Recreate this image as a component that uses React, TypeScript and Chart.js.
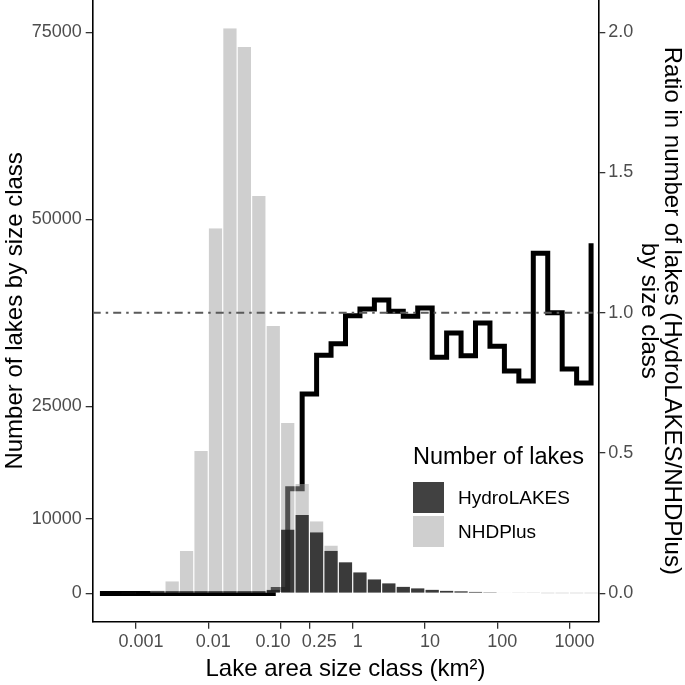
import React, { useEffect, useRef } from "react";
import { Chart, registerables } from "chart.js";

Chart.register(...registerables);

const FONT = "'Liberation Sans', Arial, Helvetica, sans-serif";

// Size-class bins: centres in log10(km²), bin width 0.2
const logBinCentres = [
  -3.5, -3.3, -3.1, -2.9, -2.7, -2.5, -2.3, -2.1, -1.9, -1.7, -1.5, -1.3,
  -1.1, -0.9, -0.7, -0.5, -0.3, -0.1, 0.1, 0.3, 0.5, 0.7, 0.9, 1.1, 1.3,
  1.5, 1.7, 1.9, 2.1, 2.3, 2.5, 2.7, 2.9, 3.1, 3.3,
];

const nhdplusCounts = [
  0, 0, 30, 80, 400, 1630, 5680, 19030, 48820, 75530, 73030, 53130,
  35730, 22770, 14630, 9640, 6390, 4200, 2790, 1820, 1350, 920, 680, 560, 400,
  330, 220, 170, 130, 95, 45, 38, 31, 24, 12,
];

const hydrolakesCounts = [
  0, 0, 0, 0, 0, 0, 0, 0, 0, 0, 0, 0,
  500, 8530, 10490, 8170, 5720, 4160, 2830, 1900, 1360, 910, 690, 470, 370,
  280, 210, 150, 105, 72, 55, 38, 25, 18, 15,
];

const ratioValues = [
  0, 0, 0, 0, 0, 0, 0, 0, 0, 0, 0, 0,
  0.014, 0.373, 0.711, 0.849, 0.89, 0.99, 1.014, 1.046, 1.006, 0.988, 1.017, 0.842, 0.928,
  0.847, 0.964, 0.881, 0.793, 0.757, 1.212, 1.0, 0.8, 0.75, 1.248,
];

const referenceRatio = 1.0;

const xTickValues = [0.001, 0.01, 0.1, 0.25, 1, 10, 100, 1000];
const xTickLabels = ["0.001", "0.01", "0.10     ", "  0.25", "1", "10", "100", "1000"];
const countTicks = [0, 10000, 25000, 50000, 75000];
const ratioTicks = [0, 0.5, 1.0, 1.5, 2.0];

const seriesNames = ["HydroLAKES", "NHDPlus"];

// axis limits (x in log10 km²)
const X_LOG_MIN = -3.6;
const X_LOG_MAX = 3.4;
const Y_MIN = -3777;
const Y_MAX = 79307;
const RATIO_FACTOR = 37500;

const HYDRO_COLOR = "rgba(32,32,32,0.85)";
const NHD_COLOR = "rgba(160,160,160,0.5)";
const TICK_COLOR = "#4d4d4d";
const TITLE_SIZE = 24;

const zeroPad = (s: any) => {
  s.paddingTop = 0;
  s.paddingBottom = 0;
  s.paddingLeft = 0;
  s.paddingRight = 0;
};

const legendPlugin = {
  id: "lakeLegend",
  afterDraw(chart: any, _args: any, opts: any) {
    const ctx = chart.ctx;
    ctx.save();
    ctx.textAlign = "left";
    ctx.textBaseline = "middle";
    ctx.fillStyle = "#000";
    ctx.font = `${opts.titleSize}px ${FONT}`;
    ctx.fillText(opts.title, opts.x, opts.titleY);
    opts.items.forEach((it: any, i: number) => {
      const top = opts.keyTop + i * (opts.keySize + opts.keyGap);
      ctx.fillStyle = it.color;
      ctx.fillRect(opts.x, top, opts.keySize, opts.keySize);
      ctx.fillStyle = "#000";
      ctx.font = `${opts.labelSize}px ${FONT}`;
      ctx.fillText(it.label, opts.x + opts.keySize + opts.textGap, top + opts.keySize / 2 + 1);
    });
    ctx.restore();
  },
};

export default function App() {
  const ref = useRef<HTMLCanvasElement>(null);

  useEffect(() => {
    if (!ref.current) return;
    Chart.defaults.font.family = FONT;

    const hydroData = logBinCentres.map((x, i) => ({ x, y: hydrolakesCounts[i] }));
    const nhdData = logBinCentres.map((x, i) => ({ x, y: nhdplusCounts[i] }));
    const ratioData = logBinCentres.map((x, i) => ({ x, y: ratioValues[i] }));
    const refData = [
      { x: X_LOG_MIN, y: referenceRatio },
      { x: X_LOG_MAX, y: referenceRatio },
    ];

    const barCommon = {
      grouped: false,
      barPercentage: 1,
      categoryPercentage: 1,
      borderColor: "#ffffff",
      borderWidth: { left: 0.6, right: 0.6, top: 0, bottom: 0 },
      borderSkipped: false,
      inflateAmount: 0,
      yAxisID: "y",
    };

    const chart = new Chart(ref.current, {
      type: "bar",
      data: {
        datasets: [
          {
            type: "line",
            label: "ratio-ref",
            data: refData,
            yAxisID: "y1",
            borderColor: "#5a5a5a",
            borderWidth: 2,
            borderDash: [8, 5, 2.5, 5],
            pointRadius: 0,
            fill: false,
            order: 1,
          } as any,
          {
            ...barCommon,
            label: seriesNames[0],
            data: hydroData,
            backgroundColor: HYDRO_COLOR,
            order: 2,
          } as any,
          {
            ...barCommon,
            label: seriesNames[1],
            data: nhdData,
            backgroundColor: NHD_COLOR,
            order: 3,
          } as any,
          {
            type: "line",
            label: "ratio",
            data: ratioData,
            yAxisID: "y1",
            stepped: true,
            borderColor: "#000000",
            borderWidth: 5,
            borderJoinStyle: "miter",
            borderCapStyle: "butt",
            pointRadius: 0,
            fill: false,
            order: 4,
          } as any,
        ],
      },
      options: {
        responsive: false,
        devicePixelRatio: 1,
        animation: false,
        events: [],
        layout: { padding: 0, autoPadding: false },
        plugins: {
          legend: { display: false },
          tooltip: { enabled: false },
          lakeLegend: {
            title: "Number of lakes",
            titleSize: 23.5,
            labelSize: 19,
            x: 413,
            titleY: 458,
            keyTop: 482,
            keySize: 31,
            keyGap: 3,
            textGap: 14,
            items: [
              { label: seriesNames[0], color: HYDRO_COLOR },
              { label: seriesNames[1], color: NHD_COLOR },
            ],
          },
        } as any,
        scales: {
          x: {
            type: "linear",
            position: "bottom",
            offset: false,
            min: X_LOG_MIN,
            max: X_LOG_MAX,
            afterBuildTicks: (s: any) => {
              s.ticks = xTickValues.map((v) => ({ value: Math.log10(v) }));
            },
            afterFit: (s: any) => {
              s.height = 63.3;
              zeroPad(s);
            },
            ticks: {
              autoSkip: false,
              maxRotation: 0,
              minRotation: 0,
              labelOffset: 5,
              padding: 3,
              color: TICK_COLOR,
              font: { size: 18 },
              callback: (_v: any, i: number) => xTickLabels[i],
            },
            grid: {
              display: true,
              offset: false,
              drawOnChartArea: false,
              drawTicks: true,
              tickLength: 7,
              color: "#333333",
              lineWidth: 1.3,
            },
            border: { display: true, color: "#000", width: 1.6 },
            title: {
              display: true,
              text: "Lake area size class (km²)",
              color: "#000",
              font: { size: TITLE_SIZE },
              padding: { top: 0, bottom: 1 },
            },
          },
          y: {
            type: "linear",
            position: "left",
            min: Y_MIN,
            max: Y_MAX,
            afterBuildTicks: (s: any) => {
              s.ticks = countTicks.map((v) => ({ value: v }));
            },
            afterFit: (s: any) => {
              s.width = 92.7;
              zeroPad(s);
            },
            ticks: {
              color: TICK_COLOR,
              font: { size: 18 },
              padding: 4,
              callback: (v: any) => String(v),
            },
            grid: {
              display: true,
              drawOnChartArea: false,
              drawTicks: true,
              tickLength: 7,
              color: "#333333",
              lineWidth: 1.3,
            },
            border: { display: true, color: "#000", width: 1.6 },
            title: {
              display: true,
              text: "Number of lakes by size class",
              color: "#000",
              font: { size: TITLE_SIZE },
              padding: { top: 1, bottom: 0 },
            },
          },
          y1: {
            type: "linear",
            position: "right",
            min: Y_MIN / RATIO_FACTOR,
            max: Y_MAX / RATIO_FACTOR,
            afterBuildTicks: (s: any) => {
              s.ticks = ratioTicks.map((v) => ({ value: v }));
            },
            afterFit: (s: any) => {
              s.width = 86.7;
              zeroPad(s);
            },
            ticks: {
              color: TICK_COLOR,
              font: { size: 18 },
              padding: 3,
              callback: (v: any) => Number(v).toFixed(1),
            },
            grid: {
              display: true,
              drawOnChartArea: false,
              drawTicks: true,
              tickLength: 7,
              color: "#333333",
              lineWidth: 1.3,
            },
            border: { display: true, color: "#000", width: 1.6 },
            title: {
              display: true,
              text: ["Ratio in number of lakes (HydroLAKES/NHDPlus)", "by size class"],
              color: "#000",
              font: { size: TITLE_SIZE, lineHeight: 0.96 },
              padding: { top: 2, bottom: 0 },
            },
          },
        },
      } as any,
      plugins: [legendPlugin as any],
    });

    return () => chart.destroy();
  }, []);

  return (
    <div style={{ position: "fixed", left: 0, top: 0, width: 685, height: 685, background: "#fff" }}>
      <canvas ref={ref} width={685} height={685} style={{ display: "block", width: 685, height: 685 }} />
    </div>
  );
}
